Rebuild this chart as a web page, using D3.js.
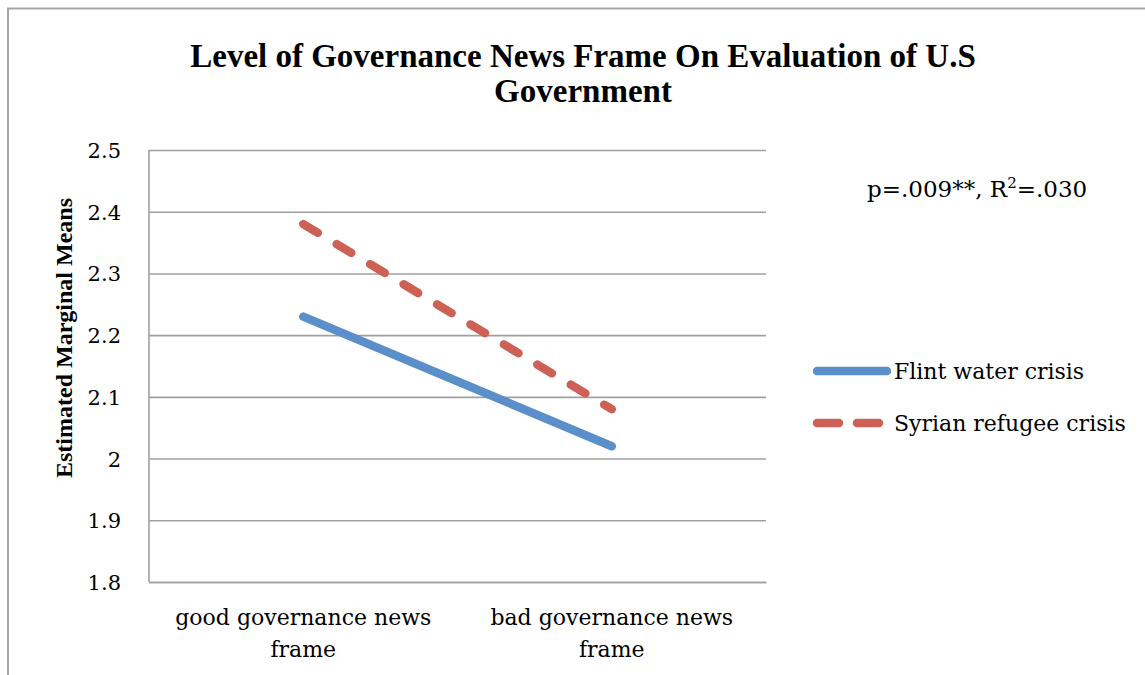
<!DOCTYPE html>
<html>
<head>
<meta charset="utf-8">
<script src="https://cdn.jsdelivr.net/npm/d3@7"></script>
<style>
  html, body { margin: 0; padding: 0; background: #fff; }
  svg { display: block; }
  text { font-family: "DejaVu Serif", "Liberation Serif", serif; fill: #000; }
  text.bold-serif { font-family: "Liberation Serif", "DejaVu Serif", serif; font-weight: bold; }
</style>
</head>
<body>
<svg id="chart" width="1145" height="675"></svg>
<script>
const categories = ["good governance news frame", "bad governance news frame"];
const categoryLines = [["good governance news", "frame"], ["bad governance news", "frame"]];
const seriesNames = ["Flint water crisis", "Syrian refugee crisis"];
const flintValues = [2.23, 2.02];
const syrianValues = [2.38, 2.08];
const yTicks = [1.8, 1.9, 2.0, 2.1, 2.2, 2.3, 2.4, 2.5];
const yTickLabels = ["1.8", "1.9", "2", "2.1", "2.2", "2.3", "2.4", "2.5"];
const titleLines = ["Level of Governance News Frame On Evaluation of U.S", "Government"];
const yAxisTitle = "Estimated Marginal Means";

const svg = d3.select("#chart");
const margin = { left: 149, right: 379, top: 150, bottom: 93 };
const W = 1145, H = 675;
const plotW = W - margin.left - margin.right;
const plotH = H - margin.top - margin.bottom;

// outer chart border
svg.append("rect").attr("x", 8).attr("y", 8.5).attr("width", 1150).attr("height", 700)
  .attr("fill", "none").attr("stroke", "#a6a6a6").attr("stroke-width", 2);

const g = svg.append("g").attr("transform", `translate(${margin.left},${margin.top})`);

const x = d3.scaleBand().domain(categories).range([0, plotW]).padding(0);
const y = d3.scaleLinear().domain([1.8, 2.5]).range([plotH, 0]);
const cx = c => x(c) + x.bandwidth() / 2;

// gridlines
const grid = g.append("g").call(d3.axisLeft(y).tickValues(yTicks).tickSize(-plotW).tickFormat(""));
grid.select(".domain").remove();
grid.selectAll(".tick line").attr("stroke", "#a0a0a0").attr("stroke-width", 1.6);

// y axis labels
const yAxis = g.append("g").call(d3.axisLeft(y).tickValues(yTicks).tickSize(0).tickPadding(28)
  .tickFormat((d, i) => yTickLabels[i]));
yAxis.select(".domain").remove();
yAxis.selectAll(".tick text").attr("font-size", 21).attr("dy", "0.36em");

// left axis line
g.append("line").attr("x1", 0).attr("x2", 0).attr("y1", 0).attr("y2", plotH)
  .attr("stroke", "#a0a0a0").attr("stroke-width", 1.6);

// x axis
const xAxis = g.append("g").attr("transform", `translate(0,${plotH})`)
  .call(d3.axisBottom(x).tickSize(0).tickFormat(""));
xAxis.select(".domain").attr("stroke", "#a0a0a0").attr("stroke-width", 1.6);
xAxis.selectAll(".tick").each(function(d, i) {
  const t = d3.select(this).append("text").attr("text-anchor", "middle")
    .attr("font-size", 22).attr("fill", "#000");
  categoryLines[i].forEach((ln, j) => {
    t.append("tspan").attr("x", 0).attr("y", 43 + j * 32).text(ln);
  });
});

// lines
const lineGen = d3.line().x((d, i) => cx(categories[i])).y(d => y(d));
g.append("path").datum(flintValues).attr("d", lineGen)
  .attr("fill", "none").attr("stroke", "#5B8FC9").attr("stroke-width", 8.5)
  .attr("stroke-linecap", "round");
g.append("path").datum(syrianValues).attr("d", lineGen)
  .attr("fill", "none").attr("stroke", "#CD6155").attr("stroke-width", 8.5)
  .attr("stroke-linecap", "round").attr("stroke-dasharray", "17,22");

// title
const title = svg.append("text").attr("class", "bold-serif").attr("text-anchor", "middle")
  .attr("font-size", 33);
titleLines.forEach((ln, j) => {
  title.append("tspan").attr("x", 583).attr("y", 67 + j * 35).text(ln);
});

// y axis title
svg.append("text").attr("class", "bold-serif").attr("transform", "translate(72,338) rotate(-90)")
  .attr("text-anchor", "middle").attr("font-size", 24)
  .text(yAxisTitle);

// annotation
const ann = svg.append("text").attr("x", 867).attr("y", 197).attr("font-size", 23);
ann.append("tspan").text("p=.009**, R");
ann.append("tspan").attr("font-size", 15).attr("dy", -9).text("2");
ann.append("tspan").attr("dy", 9).text("=.030");

// legend
const legend = svg.append("g").attr("transform", "translate(817,0)");
const legendY = [371, 423];
const legendStyles = [{ c: "#5B8FC9", dash: null }, { c: "#CD6155", dash: "22,18" }];
seriesNames.forEach((name, i) => {
  const l = legend.append("line").attr("x1", 0).attr("x2", 70).attr("y1", legendY[i]).attr("y2", legendY[i])
    .attr("stroke", legendStyles[i].c).attr("stroke-width", 8.5).attr("stroke-linecap", "round");
  if (legendStyles[i].dash) l.attr("stroke-dasharray", legendStyles[i].dash);
  legend.append("text").attr("x", 77).attr("y", legendY[i]).attr("dy", "0.36em")
    .attr("font-size", 22).text(name);
});
</script>
</body>
</html>
